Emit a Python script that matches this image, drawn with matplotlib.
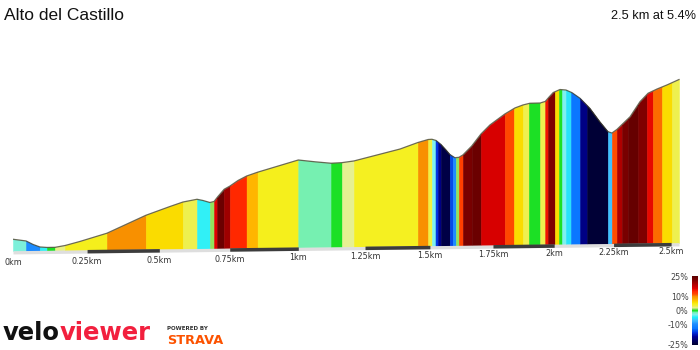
import numpy as np
import matplotlib
matplotlib.use("Agg")
import matplotlib.pyplot as plt
from matplotlib.colors import LinearSegmentedColormap, Normalize
from matplotlib.cm import ScalarMappable

title = "Alto del Castillo"
summary = "2.5 km at 5.4%"

# elevation profile (km, m)
dist_km = [0, 0.0435, 0.067, 0.090, 0.114, 0.141, 0.175, 0.226, 0.318, 0.453,
           0.5375, 0.583, 0.633, 0.654, 0.679, 0.694, 0.707, 0.730, 0.751, 0.780,
           0.811, 0.850, 1.0, 1.062, 1.122, 1.163, 1.208, 1.384, 1.453, 1.493,
           1.508, 1.524, 1.543, 1.563, 1.578, 1.598, 1.614, 1.630, 1.665, 1.702,
           1.738, 1.798, 1.839, 1.872, 1.900, 1.942, 1.963, 1.979, 1.996, 2.024,
           2.049, 2.074, 2.108, 2.149, 2.191, 2.226, 2.243, 2.264, 2.321, 2.364,
           2.399, 2.438, 2.482, 2.535]
elev_m = [208.9, 207.5, 204.6, 202.5, 202.1, 202.2, 203.7, 207.1, 213.9, 228.8,
          236.1, 239.8, 242.1, 241.1, 239.4, 240.3, 244.2, 250.4, 253.1, 257.7,
          261.4, 264.5, 274.7, 273.2, 272.0, 272.5, 273.9, 283.8, 289.2, 291.7,
          291.9, 290.9, 287.6, 283.0, 279.3, 276.6, 276.9, 278.9, 286.3, 296.3,
          303.8, 312.9, 317.9, 320.4, 321.8, 322.0, 323.3, 327.0, 330.7, 333.2,
          332.8, 330.6, 325.9, 317.6, 306.5, 298.2, 297.1, 300.0, 310.6, 323.1,
          330.1, 333.6, 337.0, 341.5]

# gradient segments: edges in km and grade (%) of each piece
seg_edges = [0, 0.0435, 0.090, 0.114, 0.141, 0.175, 0.318, 0.453, 0.583, 0.633,
             0.679, 0.694, 0.705, 0.729, 0.751, 0.811, 0.851, 1.0, 1.122, 1.163,
             1.208, 1.453, 1.493, 1.508, 1.522, 1.532, 1.543, 1.578, 1.590, 1.602,
             1.614, 1.630, 1.665, 1.702, 1.798, 1.835, 1.872, 1.896, 1.942, 1.963,
             1.975, 2.003, 2.020, 2.033, 2.049, 2.070, 2.108, 2.138, 2.226, 2.243,
             2.264, 2.286, 2.312, 2.356, 2.394, 2.42, 2.46, 2.504, 2.535]
seg_grade = [-2.5, -10, -4.5, 0, 2.3, 4.5, 10, 6, 3, -4.5,
             1, 16, 23.5, 20, 14, 8, 4.5, -1.5, 0, 2,
             4.3, 10, 3.5, -3, -16, -20, -23.5, -15, -10, 1,
             12.5, 22.5, 23.5, 16.5, 12, 6, 3, 0, 3, 15,
             22, 6, 0, -3, -5.5, -13, -20, -24.5, -7, 11.8,
             19, 22.5, 24, 22, 15.5, 11, 6, 3]

km_ticks = [0, 0.25, 0.5, 0.75, 1.0, 1.25, 1.5, 1.75, 2.0, 2.25, 2.5]
km_labels = ["0km", "0.25km", "0.5km", "0.75km", "1km", "1.25km",
             "1.5km", "1.75km", "2km", "2.25km", "2.5km"]

bar_ticks = [25, 10, 0, -10, -25]
bar_labels = ["25%", "10%", "0%", "-10%", "-25%"]

grade_stops = [
    (-25, "#000030"), (-22, "#000060"), (-19, "#000098"), (-16, "#0030e0"),
    (-13, "#0a78ff"), (-10, "#1e8cff"), (-7, "#40c0ff"), (-5, "#1ef0f8"),
    (-3, "#80f0f0"), (-1.5, "#78f0b4"), (0, "#10e020"), (1, "#8ce058"),
    (2, "#e6f096"), (3, "#eef050"), (4.5, "#f5f01e"), (6, "#fadc00"),
    (8, "#ffb400"), (10, "#f89400"), (12, "#ff4800"), (14, "#ff2800"),
    (16, "#e00000"), (19, "#b00000"), (22, "#800000"), (25, "#5a0000"),
]
cmap = LinearSegmentedColormap.from_list(
    "grade", [((g + 25) / 50, c) for g, c in grade_stops])
norm = Normalize(-25, 25)

K = 0.049  # perspective squeeze of the distance axis


def squeeze(d):
    d = np.asarray(d, dtype=float)
    return d - K * d ** 2


def unsqueeze(u):
    u = np.asarray(u, dtype=float)
    return (1 - np.sqrt(np.clip(1 - 4 * K * u, 0, None))) / (2 * K)


def base_level(d):
    # ground line tilts up slightly towards the far end
    return 199.2 + 3.0 * squeeze(d)


def label_level(d):
    return 189.5 + 4.15 * squeeze(d)


plt.rcParams["font.family"] = ["DejaVu Sans"]

fig = plt.figure(figsize=(7, 3.5), dpi=100)
ax = fig.add_axes([13 / 700, 94 / 350, 680.6 / 700, 196 / 350])
ax.set_xscale("function", functions=(squeeze, unsqueeze))
ax.set_xlim(0, 2.6)
ax.set_ylim(195.0, 357.7)
ax.axis("off")

for a, b, g in zip(seg_edges[:-1], seg_edges[1:], seg_grade):
    inner = [p for p in dist_km if a < p < b]
    xs = np.array([a] + inner + [b])
    ys = np.interp(xs, dist_km, elev_m)
    c = cmap(norm(g))
    ax.fill_between(xs, base_level(xs), ys, color=c, lw=0.4, ec=c)

ax.plot(dist_km, elev_m, color="#3d3a22", lw=0.9, alpha=0.75)

# distance strip with alternating quarter-km bars
end = np.array([0, dist_km[-1]])
ax.fill_between(end, base_level(end) - 2.5, base_level(end) + 0.2,
                color="#dedede", lw=0)
for i in range(1, len(km_ticks) - 1, 2):
    q = np.array([km_ticks[i], km_ticks[i + 1]])
    ax.fill_between(q, base_level(q) - 2.4, base_level(q) + 0.5,
                    color="#3c3c3c", lw=0)

for d, lab in zip(km_ticks, km_labels):
    ax.text(d, label_level(d), lab, ha="center", va="center",
            fontsize=5.8, color="#333333", clip_on=False)

# grade colour key
cax = fig.add_axes([691.5 / 700, 5 / 350, 6 / 700, 69 / 350])
cb = fig.colorbar(ScalarMappable(norm=norm, cmap=cmap), cax=cax, ticks=bar_ticks)
cb.set_ticklabels(bar_labels)
cb.outline.set_visible(False)
cax.yaxis.set_ticks_position("left")
cax.tick_params(length=0, labelsize=5.8, labelcolor="#444444", pad=2)

fig.text(4 / 700, 1 - 20.5 / 350, title, fontsize=12.5,
         family="Liberation Sans", color="#111111", va="baseline")
fig.text(696 / 700, 1 - 19 / 350, summary, fontsize=9.2,
         family="Liberation Sans", color="#111111", ha="right", va="baseline")

# branding
t1 = fig.text(3 / 700, 1 - 340 / 350, "velo", fontsize=17.5, weight="bold",
              color="#111111", va="baseline")
fig.canvas.draw()
bb = t1.get_window_extent(fig.canvas.get_renderer())
fig.text(bb.x1 / 700, 1 - 340 / 350, "viewer", fontsize=17.5, weight="bold",
         color="#f2203e", va="baseline")
fig.text(167 / 700, 1 - 330.5 / 350, "POWERED BY", fontsize=4, weight="bold",
         color="#333333", va="baseline")
fig.text(167 / 700, 1 - 344.5 / 350, "STRAVA", fontsize=9.3, weight="bold",
         color="#fc5200", va="baseline")

fig.savefig("out.png", dpi=100)
